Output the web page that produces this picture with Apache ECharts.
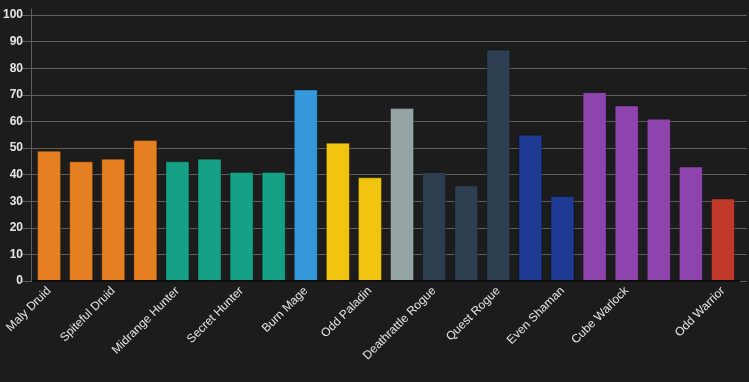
<!DOCTYPE html>
<html>
<head>
<meta charset="utf-8">
<script src="https://cdn.jsdelivr.net/npm/echarts@6/dist/echarts.min.js"></script>
<style>
html,body{margin:0;padding:0;background:#1c1c1c;}
#chart{width:749px;height:382px;}
</style>
</head>
<body>
<div id="chart"></div>
<script>
// Data
const categories = [
  'Maly Druid','Token Druid','Spiteful Druid','Taunt Druid',
  'Midrange Hunter','Spell Hunter','Secret Hunter','Recruit Hunter',
  'Burn Mage','Even Paladin','Odd Paladin','Big Priest',
  'Deathrattle Rogue','Odd Rogue','Quest Rogue',
  'Shudderwock Shaman','Even Shaman',
  'Zoo Warlock','Cube Warlock','Control Warlock','Even Warlock',
  'Odd Warrior'
];
const values = [49,45,46,53, 45,46,41,41, 72,52,39,65, 41,36,87, 55,32, 71,66,61,43, 31];
const classes = ['Druid','Druid','Druid','Druid','Hunter','Hunter','Hunter','Hunter',
  'Mage','Paladin','Paladin','Priest','Rogue','Rogue','Rogue','Shaman','Shaman',
  'Warlock','Warlock','Warlock','Warlock','Warrior'];
const yTicks = [0,10,20,30,40,50,60,70,80,90,100];
const shownLabels = [0,2,4,6,8,10,12,14,16,18,21];

// Styles
const classColors = {
  Druid:'#e67e22', Hunter:'#16a085', Mage:'#3498db', Paladin:'#f1c40f',
  Priest:'#95a5a6', Rogue:'#2c3e50', Shaman:'#1f3a93', Warlock:'#8e44ad', Warrior:'#c0392b'
};
const font = 'Arial, "Liberation Sans", sans-serif';

const chart = echarts.init(document.getElementById('chart'), null, {renderer:'canvas'});
chart.setOption({
  backgroundColor:'#1c1c1c',
  animation:false,
  grid:[
    {left:31, right:10, top:15, bottom:101},
    {left:21, right:2, top:15, bottom:101},
    {left:31, right:10, top:9, bottom:101}
  ],
  xAxis:[
    {
      type:'category', gridIndex:0, data:categories,
      axisLine:{show:true, lineStyle:{color:'#0e0e0e', width:2}},
      axisTick:{show:false},
      axisLabel:{
        rotate:45, margin:8, color:'#e6e6e6', fontSize:12, fontFamily:font,
        interval:(i)=>shownLabels.indexOf(i) >= 0
      },
      z:3
    },
    {type:'value', gridIndex:1, min:0, max:1, show:false},
    {type:'value', gridIndex:2, min:0, max:1, show:false}
  ],
  yAxis:[
    {
      type:'value', gridIndex:0, min:yTicks[0], max:yTicks[yTicks.length-1], interval:10,
      axisLine:{show:false},
      axisTick:{show:false},
      splitLine:{show:false},
      axisLabel:{color:'#e6e6e6', fontSize:12, fontWeight:'bold', fontFamily:font, margin:10}
    },
    {
      type:'value', gridIndex:1, min:yTicks[0], max:yTicks[yTicks.length-1], interval:10,
      axisLine:{show:false}, axisTick:{show:false}, axisLabel:{show:false},
      splitLine:{show:true, lineStyle:{color:'#5e5e5e', width:1}},
      z:0
    },
    {
      type:'value', gridIndex:2, min:0, max:1,
      axisLine:{show:true, lineStyle:{color:'#5e5e5e', width:1}},
      axisTick:{show:false}, axisLabel:{show:false}, splitLine:{show:false},
      z:1
    }
  ],
  series:[{
    type:'bar',
    xAxisIndex:0, yAxisIndex:0,
    barWidth:24,
    data:values.map((v,i)=>({
      value:v,
      itemStyle:{color:classColors[classes[i]], borderColor:'rgba(0,0,0,0.3)', borderWidth:1}
    })),
    z:2
  }]
});
</script>
</body>
</html>
